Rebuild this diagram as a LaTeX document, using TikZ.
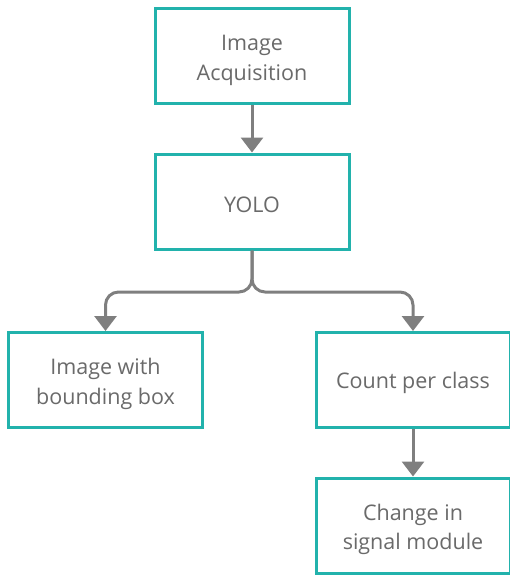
\documentclass[tikz,border=0pt]{standalone}
\usepackage{fontspec}
\setmainfont{Open Sans}
\usetikzlibrary{arrows.meta}
\definecolor{teal1}{HTML}{22B2AC}
\definecolor{txt}{HTML}{6A6A6A}
\definecolor{arr}{HTML}{7F7F7F}
\tikzset{
  box/.style={draw=teal1, line width=3pt, fill=white, minimum width=194pt, minimum height=95pt, inner sep=0pt},
  lbl/.style={inner sep=0pt, align=center, text=txt, font=\fontsize{21.5pt}{29.5pt}\selectfont},
  conn/.style={draw=arr, line width=3pt, -{Triangle[width=22pt,length=15pt]}, rounded corners=13pt}
}
\begin{document}
\begin{tikzpicture}[x=1pt,y=-1pt]
\useasboundingbox (0,0) rectangle (510,575);
\node[box] (acq) at (252,56.5) {};
\node[box] (yolo) at (252,201.5) {};
\node[box] (bbox) at (105.5,380) {};
\node[box] (count) at (413,380) {};
\node[box] (signal) at (413,525.5) {};
\node[lbl] (acqt) at ([yshift=-4pt]acq.center) {Image\\Acquisition};
\node[lbl] (yolot) at ([yshift=-3pt]yolo.center) {YOLO};
\node[lbl] (bboxt) at ([yshift=-4pt]bbox.center) {Image with\\bounding box};
\node[lbl] (countt) at ([yshift=-3pt]count.center) {Count per class};
\node[lbl] (signalt) at ([yshift=-4pt]signal.center) {Change in\\signal module};
\coordinate (split) at (252,292);
\draw[conn] (acq.south) -- (yolo.north);
\draw[conn] (yolo.south) -- (split) -| (bbox.north);
\draw[conn] (yolo.south) -- (split) -| (count.north);
\draw[conn] (count.south) -- (signal.north);
\end{tikzpicture}
\end{document}
